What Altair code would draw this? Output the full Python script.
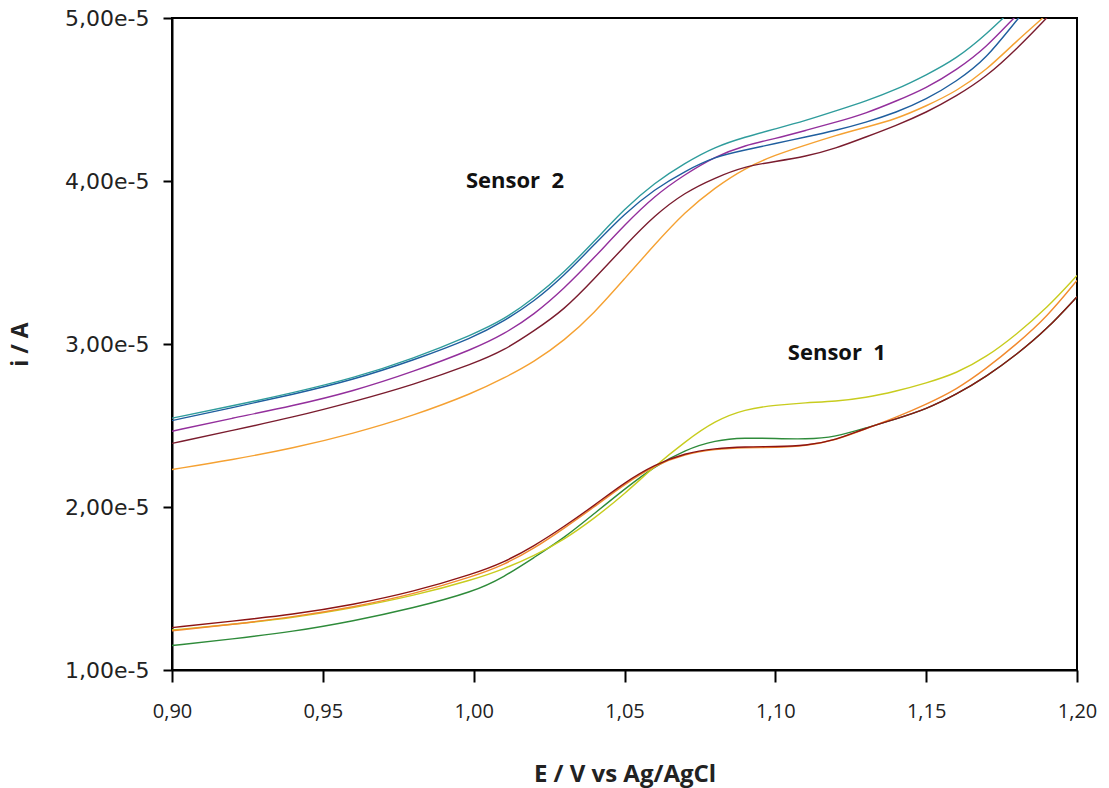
import altair as alt
import pandas as pd

# Potential grid (V vs Ag/AgCl)
E = [0.90, 0.92, 0.94, 0.96, 0.98, 1.00, 1.01, 1.02, 1.03, 1.04, 1.05, 1.06, 1.07,
     1.08, 1.09, 1.10, 1.11, 1.12, 1.13, 1.14, 1.15, 1.16, 1.17, 1.18, 1.19, 1.20]

# Currents in units of 1e-5 A -- Sensor 2
s2_teal = [2.545, 2.62, 2.70, 2.79, 2.91, 3.06, 3.15, 3.28, 3.44, 3.63, 3.83, 3.99, 4.11,
           4.21, 4.27, 4.32, 4.37, 4.43, 4.49, 4.56, 4.65, 4.75, 4.90, 5.08, 5.25, 5.45]
s2_blue = [2.53, 2.61, 2.69, 2.78, 2.90, 3.04, 3.14, 3.26, 3.42, 3.61, 3.80, 3.95, 4.06,
           4.15, 4.19, 4.23, 4.27, 4.31, 4.36, 4.42, 4.50, 4.61, 4.75, 4.99, 5.20, 5.40]
s2_purple = [2.465, 2.545, 2.62, 2.71, 2.83, 2.97, 3.06, 3.18, 3.34, 3.53, 3.73, 3.91, 4.04,
             4.15, 4.22, 4.26, 4.31, 4.36, 4.415, 4.49, 4.57, 4.68, 4.82, 5.02, 5.20, 5.40]
s2_maroon = [2.39, 2.47, 2.55, 2.645, 2.75, 2.88, 2.96, 3.08, 3.21, 3.40, 3.60, 3.79, 3.93,
             4.02, 4.09, 4.12, 4.15, 4.20, 4.27, 4.34, 4.42, 4.52, 4.64, 4.81, 5.00, 5.20]
s2_orange = [2.23, 2.29, 2.36, 2.45, 2.56, 2.70, 2.79, 2.89, 3.02, 3.19, 3.40, 3.61, 3.81,
             3.96, 4.08, 4.16, 4.22, 4.28, 4.33, 4.38, 4.46, 4.55, 4.68, 4.86, 5.02, 5.20]

# Currents in units of 1e-5 A -- Sensor 1
s1_red = [1.26, 1.30, 1.34, 1.40, 1.48, 1.59, 1.66, 1.76, 1.88, 2.01, 2.15, 2.26, 2.33,
          2.36, 2.37, 2.37, 2.375, 2.41, 2.485, 2.54, 2.60, 2.69, 2.80, 2.935, 3.09, 3.29]
s1_orange = [1.24, 1.28, 1.325, 1.385, 1.465, 1.575, 1.645, 1.745, 1.87, 2.00, 2.14, 2.255, 2.325,
             2.355, 2.365, 2.365, 2.375, 2.41, 2.48, 2.55, 2.63, 2.72, 2.85, 3.00, 3.165, 3.39]
s1_yellow = [1.245, 1.28, 1.32, 1.38, 1.455, 1.555, 1.62, 1.70, 1.80, 1.93, 2.08, 2.25, 2.40,
             2.53, 2.60, 2.625, 2.64, 2.648, 2.67, 2.71, 2.76, 2.82, 2.92, 3.06, 3.22, 3.42]
s1_green = [1.15, 1.19, 1.235, 1.30, 1.38, 1.48, 1.57, 1.69, 1.81, 1.96, 2.11, 2.25, 2.35,
            2.41, 2.425, 2.42, 2.415, 2.43, 2.485, 2.54, 2.60, 2.69, 2.80, 2.935, 3.09, 3.29]

series = [
    ("s2_orange", s2_orange, "#f5a132"),
    ("s2_maroon", s2_maroon, "#7a1c2e"),
    ("s2_purple", s2_purple, "#932f9c"),
    ("s2_blue", s2_blue, "#1f5e9e"),
    ("s2_teal", s2_teal, "#2f9c9c"),
    ("s1_green", s1_green, "#2e8b3a"),
    ("s1_yellow", s1_yellow, "#c8cc1e"),
    ("s1_orange", s1_orange, "#f28a2e"),
    ("s1_red", s1_red, "#8c1414"),
]

rows = []
for i, (name, vals, _) in enumerate(series):
    for e, v in zip(E, vals):
        rows.append({"E": e, "i": v * 1e-5, "curve": name, "order": i})
df = pd.DataFrame(rows)

names = [s[0] for s in series]
colors = [s[2] for s in series]

x_scale = alt.Scale(domain=[0.90, 1.20], nice=False, zero=False)
y_scale = alt.Scale(domain=[1e-5, 5e-5], nice=False, zero=False)

lines = alt.Chart(df).mark_line(clip=True, strokeWidth=1.4, interpolate="basis").encode(
    x=alt.X("E:Q", scale=x_scale,
            axis=alt.Axis(title="E / V vs Ag/AgCl", values=[0.90, 0.95, 1.00, 1.05, 1.10, 1.15, 1.20],
                          labelExpr="replace(format(datum.value, '.2f'), '.', ',')",
                          labelFlush=False, labelOverlap=False,
                          grid=False, tickSize=12, tickWidth=2, domainWidth=2,
                          domainColor="black", tickColor="black",
                          labelFont="Open Sans", labelFontSize=20, labelColor="#222222",
                          labelPadding=19,
                          titleFont="Open Sans", titleFontSize=24, titleFontWeight="bold",
                          titleColor="#222222", titlePadding=41)),
    y=alt.Y("i:Q", scale=y_scale,
            axis=alt.Axis(title="i / A", values=[1e-5, 2e-5, 3e-5, 4e-5, 5e-5],
                          labelExpr="replace(format(datum.value * 1e5, '.2f'), '.', ',') + 'e-5'",
                          labelFlush=False, labelOverlap=False,
                          grid=False, tickSize=9, tickWidth=2, domainWidth=2,
                          domainColor="black", tickColor="black",
                          labelFont="DejaVu Sans", labelFontSize=22, labelColor="#222222",
                          labelPadding=14,
                          titleFont="Open Sans", titleFontSize=23, titleFontWeight="bold",
                          titleColor="#222222", titlePadding=32)),
    color=alt.Color("curve:N", scale=alt.Scale(domain=names, range=colors), legend=None),
    detail="curve:N",
    order="order:Q",
)

labels_df = pd.DataFrame({
    "E": [1.0137, 1.1204],
    "i": [4.00e-5, 2.945e-5],
    "text": ["Sensor\u00a0\u00a02", "Sensor\u00a0\u00a01"],
})

labels = alt.Chart(labels_df).mark_text(
    font="Open Sans", fontSize=22, fontWeight="bold", color="#111111"
).encode(
    x=alt.X("E:Q", scale=x_scale),
    y=alt.Y("i:Q", scale=y_scale),
    text="text:N",
)

chart = alt.layer(lines, labels).properties(
    width=905,
    height=652,
    autosize=alt.AutoSizeParams(type="none"),
    padding={"left": 172, "top": 18, "right": 32, "bottom": 118},
    background="white",
).configure_view(stroke="black", strokeWidth=2)

chart.save("out.html", embed_options={"renderer": "svg", "actions": False})
